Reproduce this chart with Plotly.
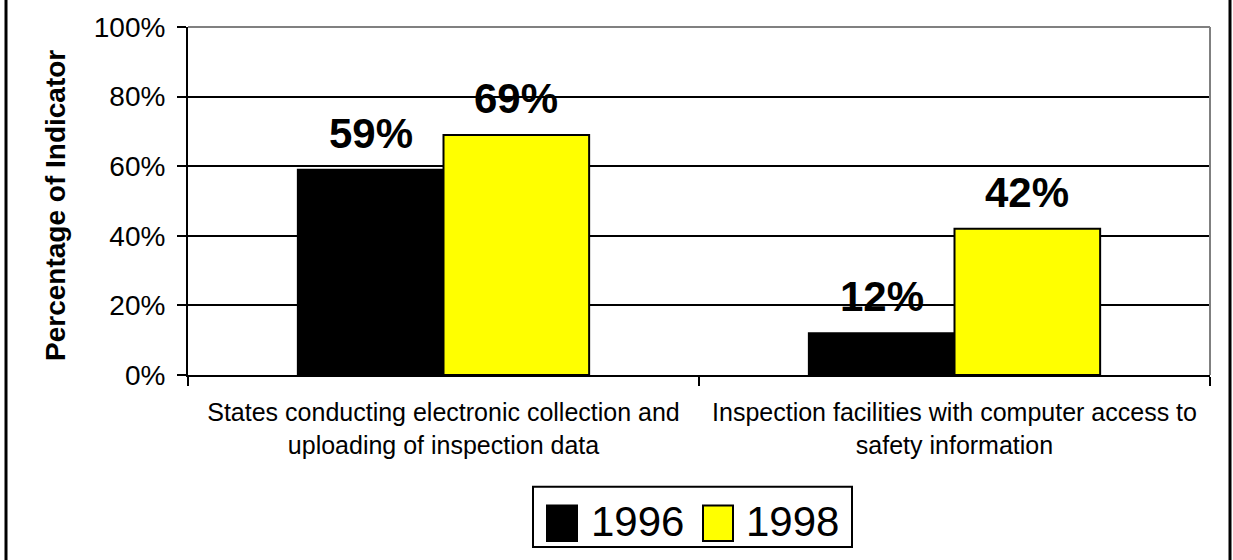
import plotly.graph_objects as go

# Indicator categories and values (percent)
categories = [
    "States conducting electronic collection and<br>uploading of inspection data",
    "Inspection facilities with computer access to<br>safety information",
]
years = ["1996", "1998"]
values_1996 = [59, 12]
values_1998 = [69, 42]
bar_colors = {"1996": "#000000", "1998": "#FFFF00"}

y_ticks = [0, 20, 40, 60, 80, 100]
y_tick_labels = [f"{v}%" for v in y_ticks]

FONT = "Liberation Sans, Arial, sans-serif"
W, H = 1233, 560
M_L, M_R, M_T, M_B = 188, 23, 23, 185
PW, PH = W - M_L - M_R, H - M_T - M_B
BAR_GAP = 0.43


def px_x(px):
    return (px - M_L) / PW


def px_y(py):
    return (H - M_B - py) / PH


fig = go.Figure()
series = list(zip(years, [values_1996, values_1998]))
for year, vals in series:
    fig.add_trace(go.Bar(
        x=categories,
        y=vals,
        name=year,
        marker=dict(color=bar_colors[year], line=dict(color="#000000", width=2)),
        showlegend=False,
    ))

# value labels above each bar, offset to the bar's slot within its group
cat_px = PW / len(categories)
bar_px = cat_px * (1 - BAR_GAP) / len(series)
annotations = []
for i, (year, vals) in enumerate(series):
    offset = (i - (len(series) - 1) / 2) * bar_px
    for cat, v in zip(categories, vals):
        annotations.append(dict(
            x=cat, y=v, xref="x", yref="y", text=f"<b>{v}%</b>",
            showarrow=False, xanchor="center", yanchor="bottom",
            xshift=offset, yshift=11,
            font=dict(family=FONT, size=42, color="#000000"),
        ))

shapes = [
    # plot frame: grey top and right edges
    dict(type="line", xref="paper", yref="paper", x0=0, x1=1, y0=1, y1=1,
         line=dict(color="#808080", width=2)),
    dict(type="line", xref="paper", yref="paper", x0=1, x1=1, y0=0, y1=1,
         line=dict(color="#808080", width=2)),
    # outer side borders
    dict(type="line", xref="paper", yref="paper", x0=px_x(6), x1=px_x(6),
         y0=px_y(H + 5), y1=px_y(-5), line=dict(color="#000000", width=3)),
    dict(type="line", xref="paper", yref="paper", x0=px_x(1230), x1=px_x(1230),
         y0=px_y(H + 5), y1=px_y(-5), line=dict(color="#000000", width=3)),
    # legend box
    dict(type="rect", xref="paper", yref="paper", x0=px_x(533), x1=px_x(852),
         y0=px_y(549), y1=px_y(488), line=dict(color="#000000", width=2),
         fillcolor="white"),
]

annotations.append(
    dict(text="<b>Percentage of Indicator</b>", textangle=-90, xref="paper", yref="paper",
         x=px_x(56), y=px_y(204), showarrow=False, xanchor="center", yanchor="middle",
         font=dict(family=FONT, size=28, color="#000000"))
)

# legend entries
legend_items = [("1996", 547, 589), ("1998", 703, 744)]
for year, sq_left, txt_left in legend_items:
    shapes.append(dict(type="rect", xref="paper", yref="paper",
                       x0=px_x(sq_left), x1=px_x(sq_left + 30),
                       y0=px_y(543), y1=px_y(507),
                       fillcolor=bar_colors[year], line=dict(color="#000000", width=2)))
    annotations.append(dict(text=year, xref="paper", yref="paper",
                            x=px_x(txt_left), y=px_y(523), showarrow=False,
                            xanchor="left", yanchor="middle",
                            font=dict(family=FONT, size=42, color="#000000")))

fig.update_layout(
    width=W, height=H,
    margin=dict(l=M_L, r=M_R, t=M_T, b=M_B, pad=0),
    paper_bgcolor="white", plot_bgcolor="white",
    barmode="group", bargap=BAR_GAP, bargroupgap=0,
    font=dict(family=FONT, color="#000000"),
    shapes=shapes,
    annotations=annotations,
    showlegend=False,
)
fig.update_xaxes(
    type="category",
    tickson="boundaries",
    ticks="outside", ticklen=9, tickwidth=2, tickcolor="#000000",
    showline=True, linecolor="#000000", linewidth=2,
    showgrid=False,
    tickfont=dict(family=FONT, size=25, color="#000000"),
    ticklabelstandoff=14,
)
fig.update_yaxes(
    range=[0, 100],
    tickvals=y_ticks, ticktext=y_tick_labels,
    ticks="outside", ticklen=9, tickwidth=2, tickcolor="#000000",
    showline=True, linecolor="#000000", linewidth=2,
    showgrid=True, gridcolor="#000000", gridwidth=1.5,
    zeroline=False,
    tickfont=dict(family=FONT, size=28, color="#000000"),
    ticklabelstandoff=6,
)

fig.write_html("out.html")
